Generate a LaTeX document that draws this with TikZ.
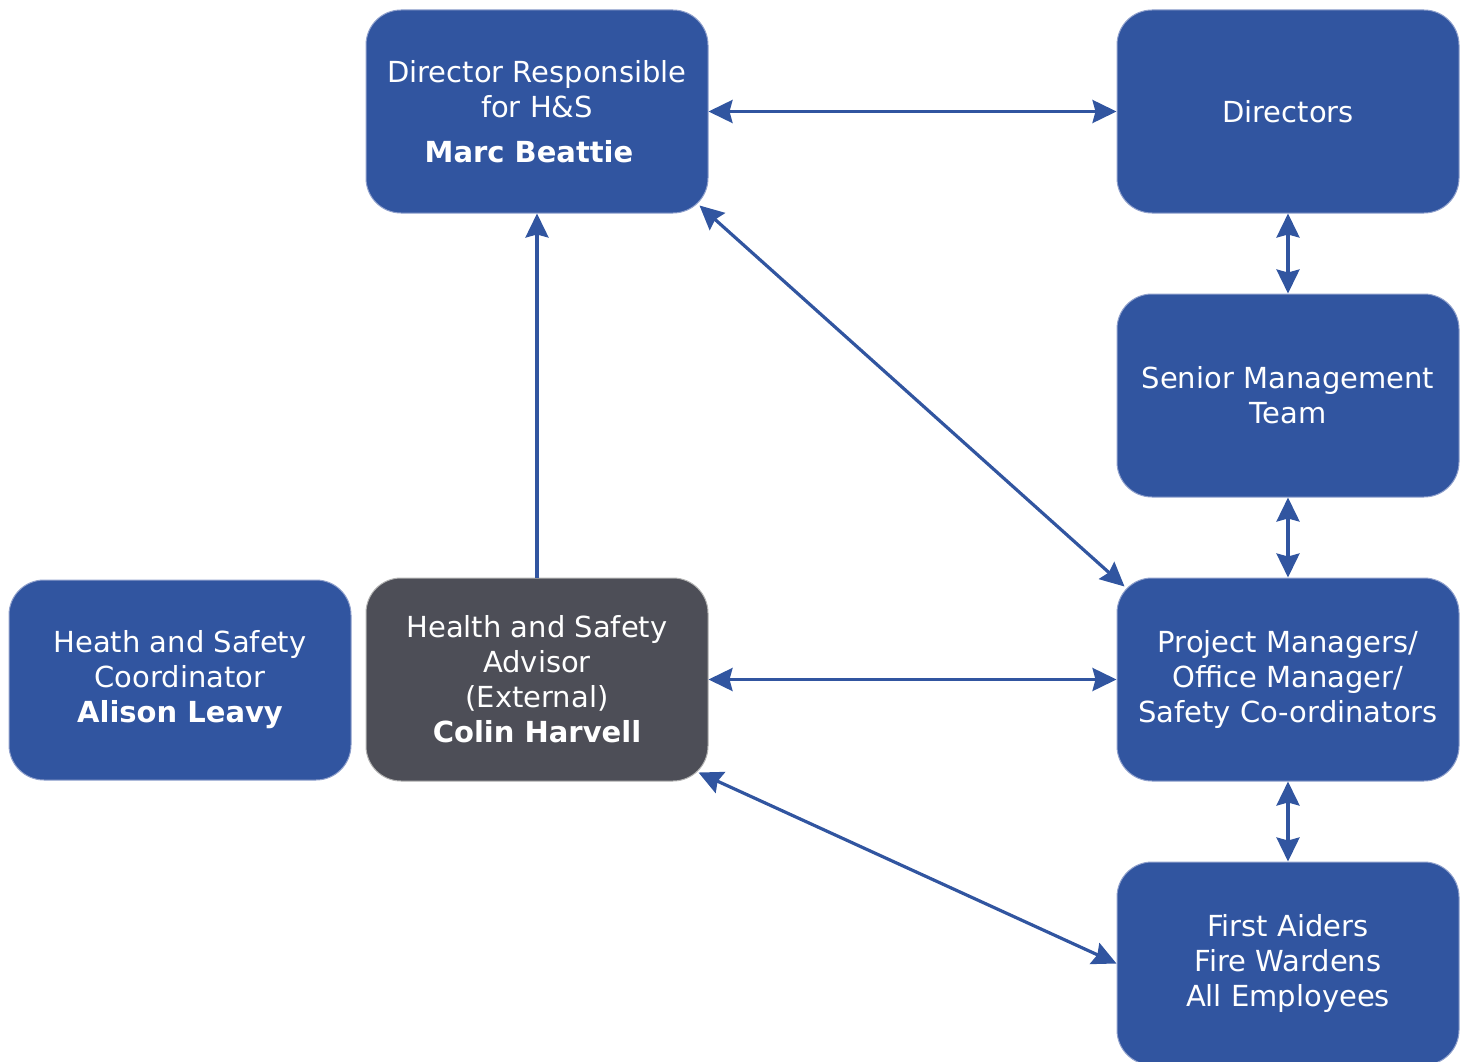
\documentclass[tikz,border=0pt]{standalone}
\usepackage{fontspec}
\setmainfont{DejaVu Sans}
\usetikzlibrary{arrows.meta}
\definecolor{boxblue}{HTML}{3155A0}
\definecolor{boxgray}{HTML}{4D4E57}
\definecolor{boxedge}{HTML}{8FA0CC}
\begin{document}
\begin{tikzpicture}[x=1pt,y=1pt,
  box/.style={draw=boxedge, line width=1pt, fill=boxblue, rounded corners=35pt,
    minimum width=342pt, minimum height=203pt, text=white, align=center,
    font=\fontsize{29}{35}\selectfont, inner sep=0pt},
  graybox/.style={box, fill=boxgray, draw=gray!60},
  tip/.tip={Stealth[length=24pt,width=23pt,inset=3pt]},
  arr/.style={draw=boxblue, line width=3.2pt, -{tip}},
  darr/.style={draw=boxblue, line width=3.2pt, {tip}-{tip}}]
\useasboundingbox (0,0) rectangle (1469,-1062);
\clip (0,0) rectangle (1469,-1062);
\node[box] (dir) at (537,-111.5) {Director Responsible\\for H\&S\\[10pt]\textbf{Marc Beattie}\hspace*{16pt}};
\node[box] (dirs) at (1288,-111.5) {Directors};
\node[box] (smt) at (1288,-395.5) {Senior Management\\Team};
\node[box] (pm) at (1288,-679.5) {Project Managers/\\Office Manager/\\Safety Co-ordinators};
\node[box] (fa) at (1288,-963.5) {First Aiders\\Fire Wardens\\All Employees};
\node[graybox] (adv) at (537,-679.5) {Health and Safety\\Advisor\\(External)\\\textbf{Colin Harvell}};
\node[box, minimum height=200pt] (coord) at (180,-680) {Heath and Safety\\Coordinator\\\textbf{Alison Leavy}};
\draw[darr] (dir.east) -- (dirs.west);
\draw[darr] (dirs.south) -- (smt.north);
\draw[darr] (smt.south) -- (pm.north);
\draw[darr] (pm.south) -- (fa.north);
\draw[darr] (adv.east) -- (pm.west);
\draw[arr] (adv.north) -- (dir.south);
\draw[darr] ([shift={(-9,8)}]dir.south east) -- ([shift={(8,-9)}]pm.north west);
\draw[darr] ([shift={(-10,9)}]adv.south east) -- (fa.west);
\end{tikzpicture}
\end{document}
